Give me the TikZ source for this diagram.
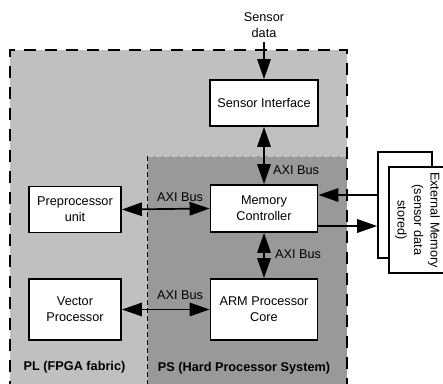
\documentclass[tikz,border=0pt]{standalone}
\usepackage{fontspec}
\setmainfont{Liberation Sans}
\usetikzlibrary{arrows.meta}
\definecolor{plgray}{HTML}{C0C0C0}
\definecolor{psgray}{HTML}{999999}
\definecolor{psedge}{HTML}{C8C8C8}
\tikzset{
  blk/.style={draw=black, fill=white, line width=1.9pt, align=center, inner sep=0pt,
    font=\fontsize{12.7}{16}\selectfont},
  tip/.tip={Triangle[length=20pt,width=13.5pt]},
  bus/.style={line width=1.7pt, tip-tip},
  one/.style={line width=1.7pt, -tip},
  lbl/.style={font=\fontsize{12.7}{16}\selectfont, inner sep=0pt, align=center},
  region/.style={font=\bfseries\fontsize{12.7}{16}\selectfont, inner sep=0pt},
}
\begin{document}
\begin{tikzpicture}[x=1pt,y=1pt]
\useasboundingbox (0,0) rectangle (443,383);
% regions
\fill[plgray] (10,-10) rectangle (347,333);
\fill[psgray] (147.5,-10) rectangle (347,227);
\draw[psedge, line width=0.9pt, dash pattern=on 5pt off 3pt] (147.5,227) -- (347,227);
\draw[black, line width=0.9pt, dash pattern=on 5pt off 3pt] (147.5,-10) -- (147.5,227);
\draw[black, line width=2.6pt, dash pattern=on 12pt off 9pt] (10,-10) -- (10,333) -- (347,333) -- (347,-10);
% blocks
\node[blk, minimum width=108pt, minimum height=46pt] (si) at (264,280) {Sensor Interface};
\node[blk, minimum width=107pt, minimum height=47pt] (mc) at (264,174.5) {Memory\\Controller};
\node[blk, minimum width=107pt, minimum height=61pt] (arm) at (264,73.5) {ARM Processor\\Core};
\node[blk, minimum width=92pt, minimum height=46pt] (pre) at (75,173.5) {Preprocessor\\unit};
\node[blk, minimum width=92pt, minimum height=61pt] (vec) at (75,73.5) {Vector\\Processor};
% external memory
\node[draw=black, fill=white, line width=1.7pt, minimum width=54pt, minimum height=106pt, inner sep=0pt] (extb) at (405,178) {};
\node[draw=black, fill=white, line width=1.7pt, minimum width=106pt, minimum height=57pt, inner sep=0pt,
  rotate=-90, align=center, font=\fontsize{12.7}{16.5}\selectfont] (extf) at (417.5,163) {External Memory\\(sensor data\\stored)};
% sensor data
\node[lbl] (sd) at (264,357.5) {Sensor\\data};
\coordinate (sdin) at (264,341);
\draw[one] (sdin) -- (si.north);
% buses
\draw[bus] (si.south) -- (mc.north);
\draw[bus] (mc.south) -- (arm.north);
\draw[bus] (pre.east) -- (mc.west);
\draw[bus] (vec.east) -- (arm.west);
\draw[one] (extb.west |- 0,188) -- (mc.east |- 0,188);
\draw[one] (mc.east |- 0,157) -- (extb.west |- 0,157);
% labels
\node[lbl] (l1) at (296,213) {AXI Bus};
\node[lbl] (l2) at (298,129) {AXI Bus};
\node[lbl] (l3) at (180,186) {AXI Bus};
\node[lbl] (l4) at (180,88) {AXI Bus};
\node[region] (pl) at (74.5,16) {PL (FPGA fabric)};
\node[region] (ps) at (244,15) {PS (Hard Processor System)};
\end{tikzpicture}
\end{document}
